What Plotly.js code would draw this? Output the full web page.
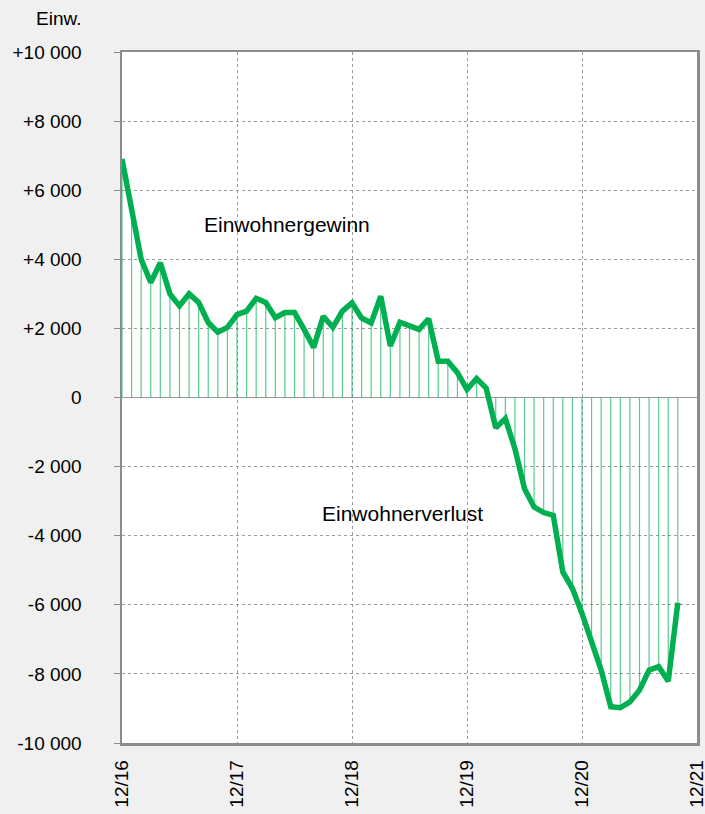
<!DOCTYPE html>
<html>
<head>
<meta charset="utf-8">
<script src="https://cdn.plot.ly/plotly-3.0.1.min.js"></script>
<style>
  html, body { margin:0; padding:0; background:#f0f0f0; }
  #chart { width:705px; height:814px; }
</style>
</head>
<body>
<div id="chart"></div>
<script>
// monthly change of inhabitants, 12/16 .. 10/21
const change = [
  6900, 5400, 4000, 3330, 3900, 3000, 2650, 3000, 2750, 2170, 1890, 2030,
  2400, 2500, 2870, 2750, 2310, 2460, 2460, 1970, 1450, 2350, 2030, 2500,
  2740, 2300, 2160, 2930, 1490, 2180, 2090, 1970, 2280, 1050, 1050, 720,
  230, 550, 270, -880, -610, -1480, -2640, -3170, -3330, -3410, -5050, -5530,
  -6250, -7070, -7890, -8950, -8980, -8810, -8470, -7890, -7790, -8210, -5940
];
const monthIdx = change.map((_, i) => i);

const xTickVals = [0, 12, 24, 36, 48, 60];
const xTickText = ['12/16', '12/17', '12/18', '12/19', '12/20', '12/21'];
const yTickVals = [10000, 8000, 6000, 4000, 2000, 0, -2000, -4000, -6000, -8000, -10000];
const yTickText = ['+10 000', '+8 000', '+6 000', '+4 000', '+2 000', '0',
                   '-2 000', '-4 000', '-6 000', '-8 000', '-10 000'];

const green = '#00b050';
const font = 'Liberation Sans, Arial, sans-serif';

// thin vertical stems from zero to each monthly value
const sx = [], sy = [];
monthIdx.forEach((m, i) => { sx.push(m, m, null); sy.push(0, change[i], null); });

const traces = [
  {
    type:'scatter', mode:'lines', x:sx, y:sy,
    line:{color:'rgba(0,176,80,0.65)', width:1.2},
    hoverinfo:'skip', showlegend:false
  },
  {
    type:'scatter', mode:'lines', x:monthIdx, y:change,
    line:{color:green, width:5.5, shape:'linear'},
    showlegend:false
  }
];

const layout = {
  width:705, height:814,
  margin:{l:121.5, r:8, t:52, b:71},
  paper_bgcolor:'#f0f0f0',
  plot_bgcolor:'#ffffff',
  font:{family:font, size:19, color:'#000'},
  xaxis:{
    range:[0, 60], tickvals:xTickVals, ticktext:xTickText, tickangle:-90,
    showgrid:true, gridcolor:'#9a9a9a', griddash:'dot', gridwidth:1,
    ticks:'', ticklabelstandoff:7, ticklabeloverflow:'allow',
    showline:true, linecolor:'#8c8c8c', linewidth:2.5, mirror:true,
    zeroline:false, tickfont:{family:font, size:19}
  },
  yaxis:{
    range:[-10000, 10000], tickvals:yTickVals, ticktext:yTickText,
    showgrid:true, gridcolor:'#9a9a9a', griddash:'dot', gridwidth:1,
    ticks:'outside', ticklen:6, tickcolor:'#8c8c8c', ticklabelstandoff:28,
    showline:true, linecolor:'#8c8c8c', linewidth:2.5, mirror:true,
    zeroline:true, zerolinecolor:'#9a9a9a', zerolinewidth:1.5,
    tickfont:{family:font, size:19}
  },
  annotations:[
    {xref:'paper', yref:'paper', x:-0.067, y:1.049, xanchor:'right', yanchor:'middle',
     text:'Einw.', showarrow:false, font:{family:font, size:19}},
    {x:8.35, y:5000, xanchor:'left', yanchor:'middle',
     text:'Einwohnergewinn', showarrow:false, font:{family:font, size:21}},
    {x:20.7, y:-3370, xanchor:'left', yanchor:'middle',
     text:'Einwohnerverlust', showarrow:false, font:{family:font, size:21}}
  ]
};

Plotly.newPlot('chart', traces, layout, {displayModeBar:false, staticPlot:true});
</script>
</body>
</html>
